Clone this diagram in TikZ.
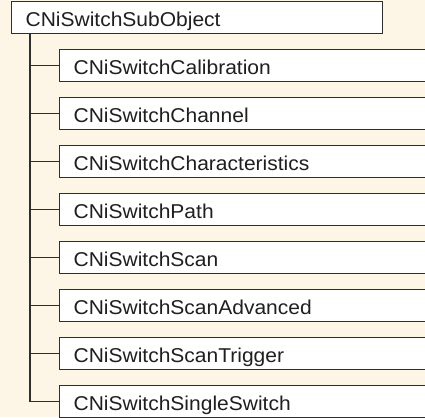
\documentclass[tikz,border=0pt]{standalone}
\usepackage{fontspec}
\setmainfont{Liberation Sans}[FakeStretch=1.05]
\definecolor{bgcream}{HTML}{FDF6E6}
\definecolor{linegray}{HTML}{2E2E2E}
\begin{document}
\begin{tikzpicture}[x=1pt,y=-1pt,
  classbox/.style={draw=linegray, line width=1.3pt, fill=white, rectangle, anchor=north west,
    minimum height=32pt, inner xsep=14pt, inner ysep=0pt, align=left,
    text height=18pt, text depth=0pt, font=\fontsize{20}{22}\selectfont, text=black!88},
  topbox/.style={classbox, text width=343pt},
  childbox/.style={classbox, text width=370pt},
  link/.style={draw=linegray, line width=1.3pt}]
\fill[bgcream] (0,0) rectangle (425,417);
\useasboundingbox (0,0) rectangle (425,417);
\clip (0,0) rectangle (425,417);
\node[topbox] (top) at (11,1) {CNiSwitchSubObject};
\node[childbox] (c1) at (59,49) {CNiSwitchCalibration};
\node[childbox] (c2) at (59,97) {CNiSwitchChannel};
\node[childbox] (c3) at (59,145) {CNiSwitchCharacteristics};
\node[childbox] (c4) at (59,193) {CNiSwitchPath};
\node[childbox] (c5) at (59,241) {CNiSwitchScan};
\node[childbox] (c6) at (59,289) {CNiSwitchScanAdvanced};
\node[childbox] (c7) at (59,337) {CNiSwitchScanTrigger};
\node[childbox] (c8) at (59,385) {CNiSwitchSingleSwitch};
\coordinate (trunk) at (top.south west -| 30,0);
\draw[link] (trunk) |- (c8.west);
\foreach \i in {1,...,7}{\draw[link] (trunk |- c\i.west) -- (c\i.west);}
\end{tikzpicture}
\end{document}
